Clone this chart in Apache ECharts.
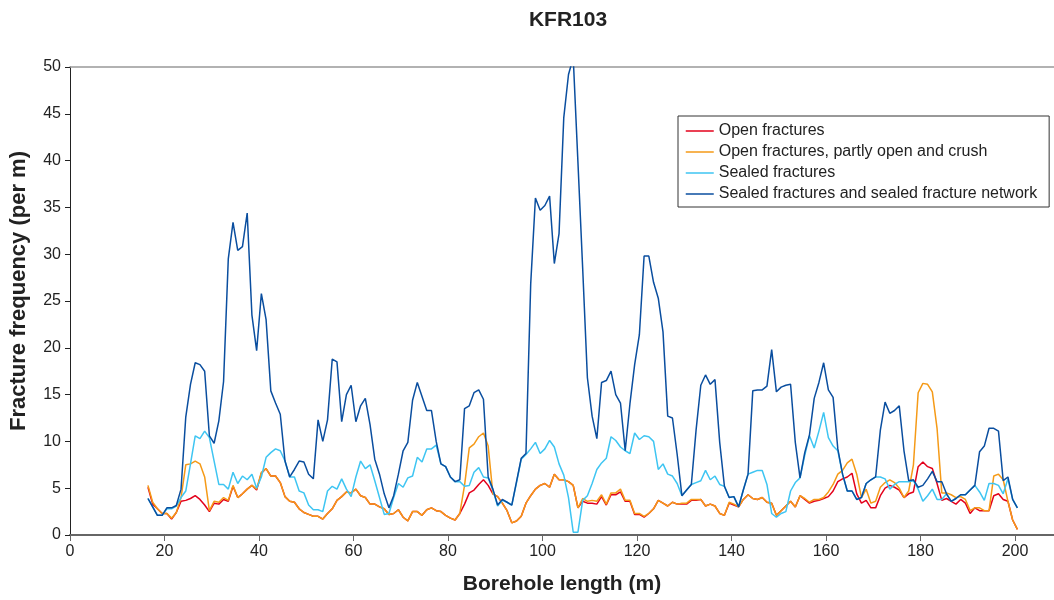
<!DOCTYPE html>
<html>
<head>
<meta charset="utf-8">
<script src="https://cdn.jsdelivr.net/npm/echarts@6/dist/echarts.min.js"></script>
<style>
html,body{margin:0;padding:0;background:#fff;}
#chart{width:1054px;height:600px;}
</style>
</head>
<body>
<div id="chart"></div>
<script>
// Borehole length (m) of each sample
const depth = [
16.5,17.5,18.5,19.5,20.5,21.5,22.5,23.5,24.5,25.5,
26.5,27.5,28.5,29.5,30.5,31.5,32.5,33.5,34.5,35.5,
36.5,37.5,38.5,39.5,40.5,41.5,42.5,43.5,44.5,45.5,
46.5,47.5,48.5,49.5,50.5,51.5,52.5,53.5,54.5,55.5,
56.5,57.5,58.5,59.5,60.5,61.5,62.5,63.5,64.5,65.5,
66.5,67.5,68.5,69.5,70.5,71.5,72.5,73.5,74.5,75.5,
76.5,77.5,78.5,79.5,80.5,81.5,82.5,83.5,84.5,85.5,
86.5,87.5,88.5,89.5,90.5,91.5,92.5,93.5,94.5,95.5,
96.5,97.5,98.5,99.5,100.5,101.5,102.5,103.5,104.5,105.5,
106.5,107.5,108.5,109.5,110.5,111.5,112.5,113.5,114.5,115.5,
116.5,117.5,118.5,119.5,120.5,121.5,122.5,123.5,124.5,125.5,
126.5,127.5,128.5,129.5,130.5,131.5,132.5,133.5,134.5,135.5,
136.5,137.5,138.5,139.5,140.5,141.5,142.5,143.5,144.5,145.5,
146.5,147.5,148.5,149.5,150.5,151.5,152.5,153.5,154.5,155.5,
156.5,157.5,158.5,159.5,160.5,161.5,162.5,163.5,164.5,165.5,
166.5,167.5,168.5,169.5,170.5,171.5,172.5,173.5,174.5,175.5,
176.5,177.5,178.5,179.5,180.5,181.5,182.5,183.5,184.5,185.5,
186.5,187.5,188.5,189.5,190.5,191.5,192.5,193.5,194.5,195.5,
196.5,197.5,198.5,199.5,200.5
];

const openFractures = [
5.1,3.3,2.8,2.3,2.3,1.7,2.4,3.6,3.7,3.9,
4.2,3.8,3.2,2.5,3.4,3.3,3.8,3.6,5.2,4.0,
4.4,4.9,5.3,4.8,6.6,7.1,6.3,6.3,5.6,4.1,
3.6,3.5,2.8,2.4,2.2,2.0,2.0,1.7,2.3,2.8,
3.7,4.1,4.6,4.5,4.9,4.2,4.0,3.3,3.3,3.0,
2.8,2.2,2.3,2.7,1.9,1.5,2.5,2.5,2.1,2.7,
2.9,2.6,2.5,2.1,1.8,1.6,2.3,3.3,4.5,4.8,
5.4,5.9,5.3,4.4,4.1,3.4,2.6,1.3,1.5,2.0,
3.4,4.2,4.9,5.3,5.5,5.1,6.5,5.9,5.9,5.7,
5.3,2.9,3.6,3.4,3.4,3.3,4.1,3.2,4.3,4.3,
4.6,3.6,3.6,2.2,2.2,1.9,2.3,2.8,3.7,3.4,
3.1,3.5,3.3,3.3,3.3,3.7,3.7,3.8,3.1,3.3,
3.1,2.3,2.1,3.4,3.2,3.0,3.8,4.3,3.9,3.8,
4.0,3.5,3.4,2.1,2.6,3.1,3.6,3.0,4.2,3.8,
3.4,3.6,3.7,3.9,4.1,4.7,5.7,6.0,6.2,6.6,
4.4,3.4,3.7,2.9,2.9,4.2,5.0,5.3,5.1,4.8,
4.0,4.4,4.6,7.3,7.8,7.3,7.1,5.5,3.7,3.9,
3.6,3.3,3.8,3.4,2.3,2.9,2.6,2.6,2.6,4.2,
4.4,3.8,3.6,1.6,0.6
];

const openPartlyCrush = [
5.3,3.5,2.8,2.3,2.3,1.8,2.4,4.0,7.5,7.6,
7.9,7.6,6.2,2.6,3.6,3.5,4.0,3.7,5.3,4.0,
4.4,4.9,5.3,4.9,6.7,7.1,6.3,6.3,5.6,4.1,
3.6,3.5,2.8,2.4,2.2,2.0,2.0,1.7,2.3,2.8,
3.7,4.1,4.6,4.5,4.9,4.2,4.0,3.3,3.3,3.0,
2.8,2.2,2.3,2.7,1.9,1.5,2.5,2.5,2.1,2.7,
2.9,2.6,2.5,2.1,1.8,1.6,2.3,5.3,9.3,9.7,
10.5,10.9,9.5,4.4,4.1,3.4,2.6,1.3,1.5,2.0,
3.4,4.2,4.9,5.3,5.5,5.1,6.5,5.9,5.9,5.7,
5.3,2.9,3.9,3.6,3.7,3.6,4.3,3.3,4.5,4.5,
4.9,3.7,3.7,2.3,2.3,2.0,2.3,2.8,3.7,3.4,
3.1,3.5,3.3,3.4,3.4,3.8,3.8,3.8,3.1,3.3,
3.1,2.3,2.1,3.5,3.3,3.0,3.8,4.3,3.9,3.8,
4.0,3.5,3.4,2.1,2.6,3.1,3.6,3.0,4.2,3.9,
3.5,3.8,3.8,4.0,4.6,5.4,6.5,6.9,7.7,8.1,
6.5,4.0,4.9,3.4,3.6,5.1,5.6,5.9,5.6,5.0,
4.0,4.7,7.5,15.2,16.2,16.1,15.3,11.4,4.5,4.5,
4.3,4.0,4.1,3.8,2.6,2.9,2.9,2.6,2.6,6.3,
6.5,5.9,3.6,1.6,0.6
];

const sealedFractures = [
3.9,3.0,2.1,2.1,2.8,2.8,3.1,4.0,4.7,7.6,
10.6,10.3,11.1,10.4,7.9,5.4,5.4,4.9,6.7,5.5,
6.3,5.9,6.5,5.0,6.2,8.3,8.8,9.2,9.0,7.9,
6.2,6.2,4.7,4.5,3.2,2.7,2.7,2.5,4.7,5.2,
4.9,6.0,4.9,4.1,6.2,7.9,7.1,7.5,5.8,4.0,
2.2,2.3,4.0,5.5,5.1,6.1,6.3,8.3,7.8,9.2,
9.2,9.6,7.6,7.3,6.2,5.7,5.7,5.2,5.3,6.7,
7.2,6.2,6.1,4.8,3.1,3.7,3.5,3.2,5.6,8.1,
8.6,9.2,9.9,8.7,9.2,10.1,9.4,7.6,6.4,4.0,
0.3,0.3,3.7,4.2,5.5,7.0,7.7,8.2,10.5,10.1,
9.4,9.0,8.7,10.9,10.2,10.6,10.5,10.0,7.0,7.6,
6.5,6.3,5.5,4.2,4.8,5.4,5.6,5.8,6.9,5.9,
6.3,5.4,5.2,4.0,4.1,3.0,4.8,6.5,6.7,6.9,
6.9,5.4,2.3,1.9,2.3,2.5,4.7,5.6,6.1,8.5,
10.6,9.3,11.1,13.1,10.4,9.5,9.0,6.5,4.7,4.7,
3.8,4.0,5.5,5.9,6.2,6.2,6.0,4.9,5.4,5.7,
5.7,5.7,5.8,4.9,3.6,4.2,4.9,3.8,3.8,4.4,
3.6,3.9,4.3,4.3,4.8,5.3,4.6,3.7,5.5,5.5,
5.3,4.4,6.0,3.8,2.9
];

const sealedAndNetwork = [
3.9,3.0,2.1,2.1,2.9,2.9,3.15,4.9,12.6,16.1,
18.4,18.2,17.5,10.6,9.8,12.2,16.4,29.5,33.4,30.4,
30.8,34.4,23.5,19.7,25.8,23.0,15.4,14.1,12.9,7.9,
6.2,7.0,7.9,7.8,6.5,6.0,12.3,10.0,12.3,18.8,
18.5,12.1,15.0,16.0,12.1,13.8,14.6,11.8,8.1,6.5,
4.4,2.9,4.2,6.5,9.0,9.9,14.4,16.3,14.8,13.3,
13.3,10.0,7.6,7.3,6.2,5.7,5.9,13.5,13.8,15.2,
15.5,14.5,6.2,4.9,3.2,3.8,3.5,3.2,5.7,8.2,
8.7,26.8,36.0,34.7,35.2,36.2,29.0,32.2,44.6,49.2,
51.0,39.8,28.5,16.8,12.7,10.3,16.3,16.5,17.5,15.0,
14.1,9.0,14.0,18.2,21.4,29.8,29.8,27.0,25.3,21.7,
12.7,12.5,8.6,4.2,4.8,5.4,11.2,16.0,17.1,16.1,
16.6,9.9,5.2,4.0,4.1,3.0,4.8,6.5,15.4,15.5,
15.5,15.9,19.8,15.3,15.8,16.0,16.1,9.9,6.1,8.8,
10.7,14.6,16.3,18.4,15.5,14.7,9.2,6.5,4.7,4.7,
3.8,4.0,5.5,5.9,6.2,11.2,14.2,13.0,13.3,13.8,
9.0,5.8,5.9,5.1,5.3,6.0,6.8,5.7,5.7,4.4,
3.6,3.9,4.3,4.3,4.8,5.3,8.9,9.5,11.4,11.4,
11.1,5.8,6.2,3.8,2.9
];

const seriesNames = [
  'Open fractures',
  'Open fractures, partly open and crush',
  'Sealed fractures',
  'Sealed fractures and sealed fracture network'
];
const seriesColors = ['#e3001b', '#f59a17', '#3ec5f2', '#0a4e9f'];
const seriesValues = [openFractures, openPartlyCrush, sealedFractures, sealedAndNetwork];

const chart = echarts.init(document.getElementById('chart'));
const FONT = '"Liberation Sans", Arial, sans-serif';

const series = seriesValues.map((vals, i) => ({
  name: seriesNames[i],
  type: 'line',
  data: depth.map((d, j) => [d, vals[j]]),
  symbol: 'none',
  smooth: false,
  lineStyle: { color: seriesColors[i], width: 1.5 },
  itemStyle: { color: seriesColors[i] },
  animation: false,
  z: 2 + i
}));

chart.setOption({
  animation: false,
  backgroundColor: '#fff',
  title: {
    text: 'KFR103',
    left: 563,
    top: 5,
    textAlign: 'center',
    textStyle: { fontFamily: FONT, fontSize: 21, fontWeight: 'bold', color: '#222' }
  },
  legend: {
    orient: 'vertical',
    left: 678,
    top: 116,
    padding: [7, 12, 5, 7],
    itemWidth: 28,
    itemHeight: 16,
    itemGap: 5,
    borderColor: '#333',
    borderWidth: 1,
    backgroundColor: '#fff',
    data: seriesNames,
    itemStyle: { color: 'rgba(0,0,0,0)', borderWidth: 0, opacity: 0 },
    lineStyle: { width: 1.5 },
    textStyle: { fontFamily: FONT, fontSize: 16, color: '#222' }
  },
  grid: { left: 70, right: 0, top: 67, bottom: 62, containLabel: false },
  xAxis: [{
    type: 'value',
    min: 0,
    max: 208.25,
    interval: 20,
    name: 'Borehole length (m)',
    nameLocation: 'middle',
    nameGap: 39,
    nameTextStyle: { fontFamily: FONT, fontSize: 21, fontWeight: 'bold', color: '#222' },
    axisLine: { show: true, onZero: false, lineStyle: { color: '#666', width: 2 } },
    axisTick: { show: true, length: 6, lineStyle: { color: '#666', width: 1 } },
    axisLabel: { margin: 9, showMaxLabel: false, fontFamily: FONT, fontSize: 16, color: '#222' },
    splitLine: { show: false }
  }, {
    type: 'value',
    position: 'top',
    min: 0,
    max: 208.25,
    interval: 20,
    axisLine: { show: true, onZero: false, lineStyle: { color: '#999', width: 1.5 } },
    axisTick: { show: false },
    axisLabel: { show: false },
    splitLine: { show: false }
  }],
  yAxis: {
    type: 'value',
    min: 0,
    max: 50,
    interval: 5,
    name: 'Fracture frequency (per m)',
    nameLocation: 'middle',
    nameGap: 40,
    nameTextStyle: { fontFamily: FONT, fontSize: 22, fontWeight: 'bold', color: '#222', padding: [0, 0, 0, 20] },
    axisLine: { show: true, onZero: false, lineStyle: { color: '#222', width: 1 } },
    axisTick: { show: true, length: 5, lineStyle: { color: '#222', width: 1 } },
    axisLabel: { margin: 9, fontFamily: FONT, fontSize: 16, color: '#222' },
    splitLine: { show: false }
  },
  series: series
});
</script>
</body>
</html>
